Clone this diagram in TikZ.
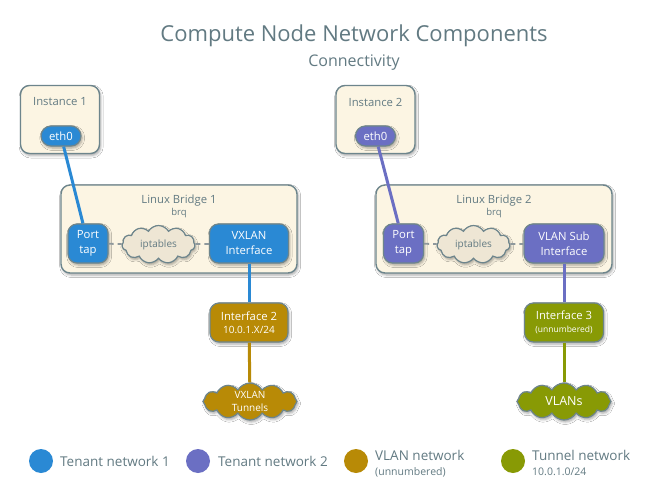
\documentclass[tikz,border=0pt]{standalone}
\usepackage{fontspec}
\setmainfont{Open Sans}
\usetikzlibrary{shapes.symbols,shadows.blur}

\definecolor{txt}{HTML}{627A82}
\definecolor{edge}{HTML}{6D858C}
\definecolor{cream}{HTML}{FCF5E3}
\definecolor{ipfill}{HTML}{EEE6D4}
\definecolor{tenA}{HTML}{2A89D4}
\definecolor{tenB}{HTML}{6B6FC3}
\definecolor{vlanc}{HTML}{B88A06}
\definecolor{tunc}{HTML}{889A05}
\definecolor{dashc}{HTML}{8E989C}

\tikzset{
  shade/.style={blur shadow={shadow xshift=1.2pt, shadow yshift=-2pt,
      shadow blur radius=2.5pt, shadow opacity=35}},
  hostbox/.style={draw=edge, line width=1.4pt, fill=cream, rounded corners=9pt,
      shade, inner sep=0pt},
  nic/.style={draw=edge, line width=1.2pt, rounded corners=9pt, shade,
      inner sep=0pt, text=white, font=\fontsize{11.3}{15}\selectfont,
      align=center},
  pill/.style={nic, rounded corners=10pt, minimum width=40pt, minimum height=20pt},
  ipt/.style={cloud, cloud puffs=11, cloud puff arc=120, cloud ignores aspect,
      draw=edge, line width=1.2pt, fill=ipfill, shade, inner sep=0pt,
      text=txt, font=\fontsize{10}{12}\selectfont,
      minimum width=73pt, minimum height=38pt},
  netcloud/.style={cloud, cloud puffs=12, cloud puff arc=120, cloud ignores aspect,
      draw=edge, line width=1.2pt, shade, inner sep=0pt, text=white,
      align=center, minimum width=94pt, minimum height=37pt},
  wire/.style={line width=3pt},
  link/.style={draw=dashc, line width=1.8pt, dash pattern=on 5pt off 4pt},
  lbl/.style={text=txt, inner sep=0pt},
  dot/.style={circle, inner sep=0pt, minimum size=24pt},
  legtxt/.style={text=txt, anchor=west, inner sep=0pt, font=\fontsize{13.5}{15}\selectfont},
  legsub/.style={text=txt, anchor=west, inner sep=0pt, font=\fontsize{10.5}{12}\selectfont},
}

\begin{document}
\begin{tikzpicture}[x=1pt, y=-1pt]
\useasboundingbox[fill=white] (0,0) rectangle (654,498);

% headings
\node[lbl, font=\fontsize{22}{26}\selectfont] (title) at (354,36) {Compute Node Network Components};
\node[lbl, font=\fontsize{16}{19}\selectfont] (subtitle) at (354,63) {Connectivity};

% ---- tenant network 1 ----
\node[hostbox, minimum width=79pt, minimum height=68pt] (inst1) at (60,119.5) {};
\node[lbl, font=\fontsize{11.3}{13}\selectfont] (inst1t) at (60,102) {Instance 1};
\node[pill, fill=tenA] (eth1) at (61,136) {eth0};

\node[hostbox, minimum width=236pt, minimum height=88pt] (br1) at (179,229) {};
\node[lbl, font=\fontsize{11.3}{13}\selectfont] (br1t) at (179,200.5) {Linux Bridge 1};
\node[lbl, font=\fontsize{9.5}{11}\selectfont] (br1s) at (179,213) {brq};

\node[nic, fill=tenA, minimum width=40pt, minimum height=39pt] (tap1) at (88,243.5) {Port\\tap};
\node[ipt] (ipt1) at (158.5,244.5) {iptables};
\node[nic, fill=tenA, minimum width=79pt, minimum height=39pt] (vx1) at (249,243.5) {VXLAN\\Interface};

\node[nic, fill=vlanc, minimum width=78pt, minimum height=39pt, font=\fontsize{11.3}{13}\selectfont] (if2) at (249,322.5)
  {Interface 2\\{\fontsize{10}{12}\selectfont 10.0.1.X/24}};
\node[netcloud, fill=vlanc, font=\fontsize{10}{12.5}\selectfont] (cl1) at (250,401.5) {VXLAN\\Tunnels};

% ---- tenant network 2 ----
\node[hostbox, minimum width=79pt, minimum height=68pt] (inst2) at (375.5,119.5) {};
\node[lbl, font=\fontsize{11.3}{13}\selectfont] (inst2t) at (375.5,102) {Instance 2};
\node[pill, fill=tenB] (eth2) at (375.5,136) {eth0};

\node[hostbox, minimum width=236pt, minimum height=88pt] (br2) at (494,229) {};
\node[lbl, font=\fontsize{11.3}{13}\selectfont] (br2t) at (494,200.5) {Linux Bridge 2};
\node[lbl, font=\fontsize{9.5}{11}\selectfont] (br2s) at (494,213) {brq};

\node[nic, fill=tenB, minimum width=40pt, minimum height=39pt] (tap2) at (403.5,243.5) {Port\\tap};
\node[ipt] (ipt2) at (473.5,244.5) {iptables};
\node[nic, fill=tenB, minimum width=80pt, minimum height=39pt] (vs2) at (564,243.5) {VLAN Sub\\Interface};

\node[nic, fill=tunc, minimum width=79pt, minimum height=39pt, font=\fontsize{11.3}{13}\selectfont] (if3) at (564,322.5)
  {Interface 3\\{\fontsize{8.5}{11}\selectfont (unnumbered)}};
\node[netcloud, fill=tunc, font=\fontsize{12.5}{14}\selectfont] (cl2) at (564,401.5) {VLANs};

% ---- connections ----
\draw[wire, draw=tenA] (eth1) -- (tap1);
\draw[wire, draw=tenA] (vx1) -- (if2);
\draw[wire, draw=vlanc] (if2) -- (cl1);
\draw[link] (tap1) -- (ipt1);
\draw[link] (ipt1) -- (vx1);

\draw[wire, draw=tenB] (eth2) -- (tap2);
\draw[wire, draw=tenB] (vs2) -- (if3);
\draw[wire, draw=tunc] (if3) -- (cl2);
\draw[link] (tap2) -- (ipt2);
\draw[link] (ipt2) -- (vs2);

% ---- legend ----
\node[dot, fill=tenA] (k1) at (41,461) {};
\node[legtxt] (k1t) at (60,461) {Tenant network 1};
\node[dot, fill=tenB] (k2) at (198,461) {};
\node[legtxt] (k2t) at (218,461) {Tenant network 2};
\node[dot, fill=vlanc] (k3) at (356,461) {};
\node[legtxt] (k3t) at (375,455) {VLAN network};
\node[legsub] (k3s) at (375,472) {(unnumbered)};
\node[dot, fill=tunc] (k4) at (513,461) {};
\node[legtxt] (k4t) at (532,455) {Tunnel network};
\node[legsub] (k4s) at (532,472) {10.0.1.0/24};
\end{tikzpicture}
\end{document}
